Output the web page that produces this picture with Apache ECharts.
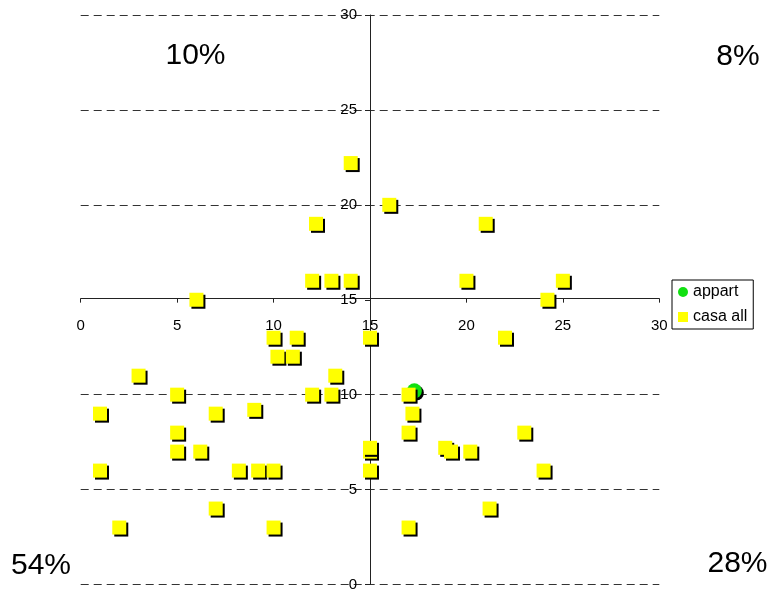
<!DOCTYPE html>
<html>
<head>
<meta charset="utf-8">
<script src="https://cdn.jsdelivr.net/npm/echarts@6/dist/echarts.min.js"></script>
<style>
html,body{margin:0;padding:0;background:#fff;}
#chart{width:770px;height:592px;}
</style>
</head>
<body>
<div id="chart"></div>
<script>
// Data
const appartX = [17.3];
const appartY = [10.2];
const casaX = [14, 12.2, 16, 21, 12, 13, 14, 20, 25, 24.2, 6,
  10, 11.2, 10.2, 11, 15, 22, 3, 13.2, 5, 12, 13, 17, 1, 7, 9, 17.2,
  5, 17, 23, 5, 6.2, 15, 15, 18.9, 19.2, 20.2, 1, 8.2, 9.2, 10, 15, 24,
  7, 21.2, 2, 10, 17];
const casaY = [22.2, 19, 20, 19, 16, 16, 16, 16, 16, 15, 15,
  13, 13, 12, 12, 13, 13, 11, 11, 10, 10, 10, 10, 9, 9, 9.2, 9,
  8, 8, 8, 7, 7, 7, 7.2, 7.2, 7, 7, 6, 6, 6, 6, 6, 6,
  4, 4, 3, 3, 3];
const axisTicks = [0, 5, 10, 15, 20, 25, 30];
const quadrantLabels = ['10%', '8%', '54%', '28%'];
const seriesNames = ['appart', 'casa all'];

const FONT = '"Liberation Sans", Arial, sans-serif';
const zip = (xs, ys) => xs.map((x, i) => [x, ys[i]]);

const chart = echarts.init(document.getElementById('chart'));
const gridLeft = 80.7, gridTop = 15, gridRight = 110.7, gridBottom = 5.3;
const plotH = 592 - gridTop - gridBottom;
const plotW = 770 - gridLeft - gridRight;
// no dashed grid line where the horizontal axis crosses (value 15)
const gridColors = axisTicks.map(v => v === 15 ? 'rgba(0,0,0,0)' : '#333');

chart.setOption({
  animation: false,
  backgroundColor: '#fff',
  grid: { left: gridLeft, top: gridTop, right: gridRight, bottom: gridBottom, containLabel: false },
  xAxis: {
    type: 'value', min: axisTicks[0], max: axisTicks[axisTicks.length - 1], interval: 5,
    position: 'bottom',
    offset: -plotH / 2,
    axisLine: { onZero: false, lineStyle: { color: '#222', width: 1 } },
    axisTick: { show: true, length: 4, lineStyle: { color: '#222' } },
    axisLabel: { color: '#000', fontSize: 15, fontFamily: FONT, margin: 20 },
    splitLine: { show: false }
  },
  yAxis: {
    type: 'value', min: axisTicks[0], max: axisTicks[axisTicks.length - 1], interval: 5,
    position: 'left',
    offset: -plotW / 2,
    axisLine: { onZero: false, lineStyle: { color: '#222', width: 1 } },
    axisTick: { show: true, length: 5, lineStyle: { color: '#222' } },
    axisLabel: { color: '#000', fontSize: 15, fontFamily: FONT, margin: 13, padding: [3, 0, 0, 0] },
    splitLine: { show: true, lineStyle: { color: gridColors, width: 1, type: [8, 5] } }
  },
  legend: {
    orient: 'vertical', left: 672, top: 280,
    data: [
      { name: seriesNames[0], icon: 'circle' },
      { name: seriesNames[1], icon: 'rect' }
    ],
    itemWidth: 10, itemHeight: 10, itemGap: 9,
    padding: [4, 6, 4, 6],
    borderColor: '#000', borderWidth: 1, borderRadius: 0,
    backgroundColor: '#fff',
    textStyle: { color: '#000', fontSize: 16, fontFamily: FONT },
    itemStyle: { opacity: 1, shadowBlur: 0, shadowOffsetX: 0, shadowOffsetY: 0, shadowColor: 'transparent' }
  },
  graphic: [
    { type: 'text', style: { x: 195.5, y: 56, text: quadrantLabels[0], font: '30px ' + FONT, fill: '#000', textAlign: 'center', textVerticalAlign: 'middle' } },
    { type: 'text', style: { x: 738, y: 56.5, text: quadrantLabels[1], font: '30px ' + FONT, fill: '#000', textAlign: 'center', textVerticalAlign: 'middle' } },
    { type: 'text', style: { x: 41, y: 566, text: quadrantLabels[2], font: '30px ' + FONT, fill: '#000', textAlign: 'center', textVerticalAlign: 'middle' } },
    { type: 'text', style: { x: 737.5, y: 564, text: quadrantLabels[3], font: '30px ' + FONT, fill: '#000', textAlign: 'center', textVerticalAlign: 'middle' } }
  ],
  series: [
    {
      name: seriesNames[0], type: 'scatter', symbol: 'circle', symbolSize: 15,
      data: zip(appartX, appartY),
      itemStyle: { color: '#11e011', opacity: 1, shadowColor: '#000', shadowBlur: 0, shadowOffsetX: 2, shadowOffsetY: 2 },
      emphasis: { disabled: true }
    },
    {
      name: seriesNames[1], type: 'scatter', symbol: 'rect', symbolSize: 14,
      data: zip(casaX, casaY),
      itemStyle: { color: '#ffff00', opacity: 1, shadowColor: '#000', shadowBlur: 0, shadowOffsetX: 2, shadowOffsetY: 2 },
      emphasis: { disabled: true }
    }
  ]
});
</script>
</body>
</html>
